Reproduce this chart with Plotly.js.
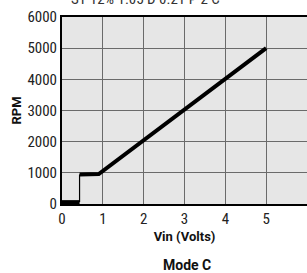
<!DOCTYPE html>
<html>
<head>
<meta charset="utf-8">
<script src="https://cdn.plot.ly/plotly-3.0.1.min.js"></script>
<style>html,body{margin:0;padding:0;background:#fff;overflow:hidden}</style>
</head>
<body>
<div id="chart" style="width:307px;height:273px"></div>
<script>
// Data
const curveX = [0, 0.43, null, 0.43, 0.9, 5];
const curveY = [60, 60, null, 950, 960, 5000];
const stepX = [0.43, 0.43];
const stepY = [60, 950];
const xTicks = [0, 1, 2, 3, 4, 5, 6];
const yTicks = [0, 1000, 2000, 3000, 4000, 5000, 6000];
const chartTitle = "ST 12% 1.05 D 0.21 P 2 C";
const modeLabel = "Mode C";

const narrow = "Liberation Sans Narrow, Roboto Condensed, DejaVu Sans Condensed, sans-serif";
const traces = [
  {x: stepX, y: stepY, mode: 'lines', line: {color: '#000', width: 1.2}, hoverinfo: 'skip', showlegend: false},
  {x: curveX, y: curveY, mode: 'lines', line: {color: '#000', width: 4}, connectgaps: false, hoverinfo: 'skip', showlegend: false}
];
const layout = {
  width: 307, height: 273,
  margin: {l: 62, r: 0, t: 17, b: 69},
  paper_bgcolor: '#fff',
  plot_bgcolor: '#e6e6e6',
  showlegend: false,
  xaxis: {
    range: [0, 6], tickvals: xTicks, ticktext: xTicks.map(String),
    showgrid: true, gridcolor: '#6a6a6a', gridwidth: 1.3, zeroline: false,
    showline: true, linecolor: '#000', linewidth: 2, mirror: true,
    ticks: '', ticklen: 0,
    tickfont: {family: narrow, size: 15, color: '#222'},
    title: {text: 'Vin (Volts)', font: {family: 'Roboto, sans-serif', size: 13, color: '#111', weight: 'bold'}, standoff: 5}
  },
  yaxis: {
    range: [0, 6000], tickvals: yTicks, ticktext: yTicks.map(String),
    showgrid: true, gridcolor: '#6a6a6a', gridwidth: 1.3, zeroline: false,
    showline: true, linecolor: '#000', linewidth: 2, mirror: true,
    ticks: '', ticklen: 0,
    tickfont: {family: narrow, size: 15, color: '#222'},
    title: {text: 'RPM', font: {family: 'Roboto, sans-serif', size: 13, color: '#111', weight: 'bold'}, standoff: 3}
  },
  annotations: [
    {text: chartTitle, xref: 'paper', yref: 'paper', x: (145 - 62) / 245, y: 1 + (17 - 10) / 187,
     xanchor: 'center', yanchor: 'bottom', showarrow: false,
     font: {family: narrow, size: 15, color: '#333'}},
    {text: modeLabel, xref: 'paper', yref: 'paper', x: (187 - 62) / 245, y: -(265 - 204) / 187,
     xanchor: 'center', yanchor: 'middle', showarrow: false,
     font: {family: 'Roboto, sans-serif', size: 14, color: '#111', weight: 'bold'}}
  ]
};
Plotly.newPlot('chart', traces, layout, {displayModeBar: false, staticPlot: true});
</script>
</body>
</html>
